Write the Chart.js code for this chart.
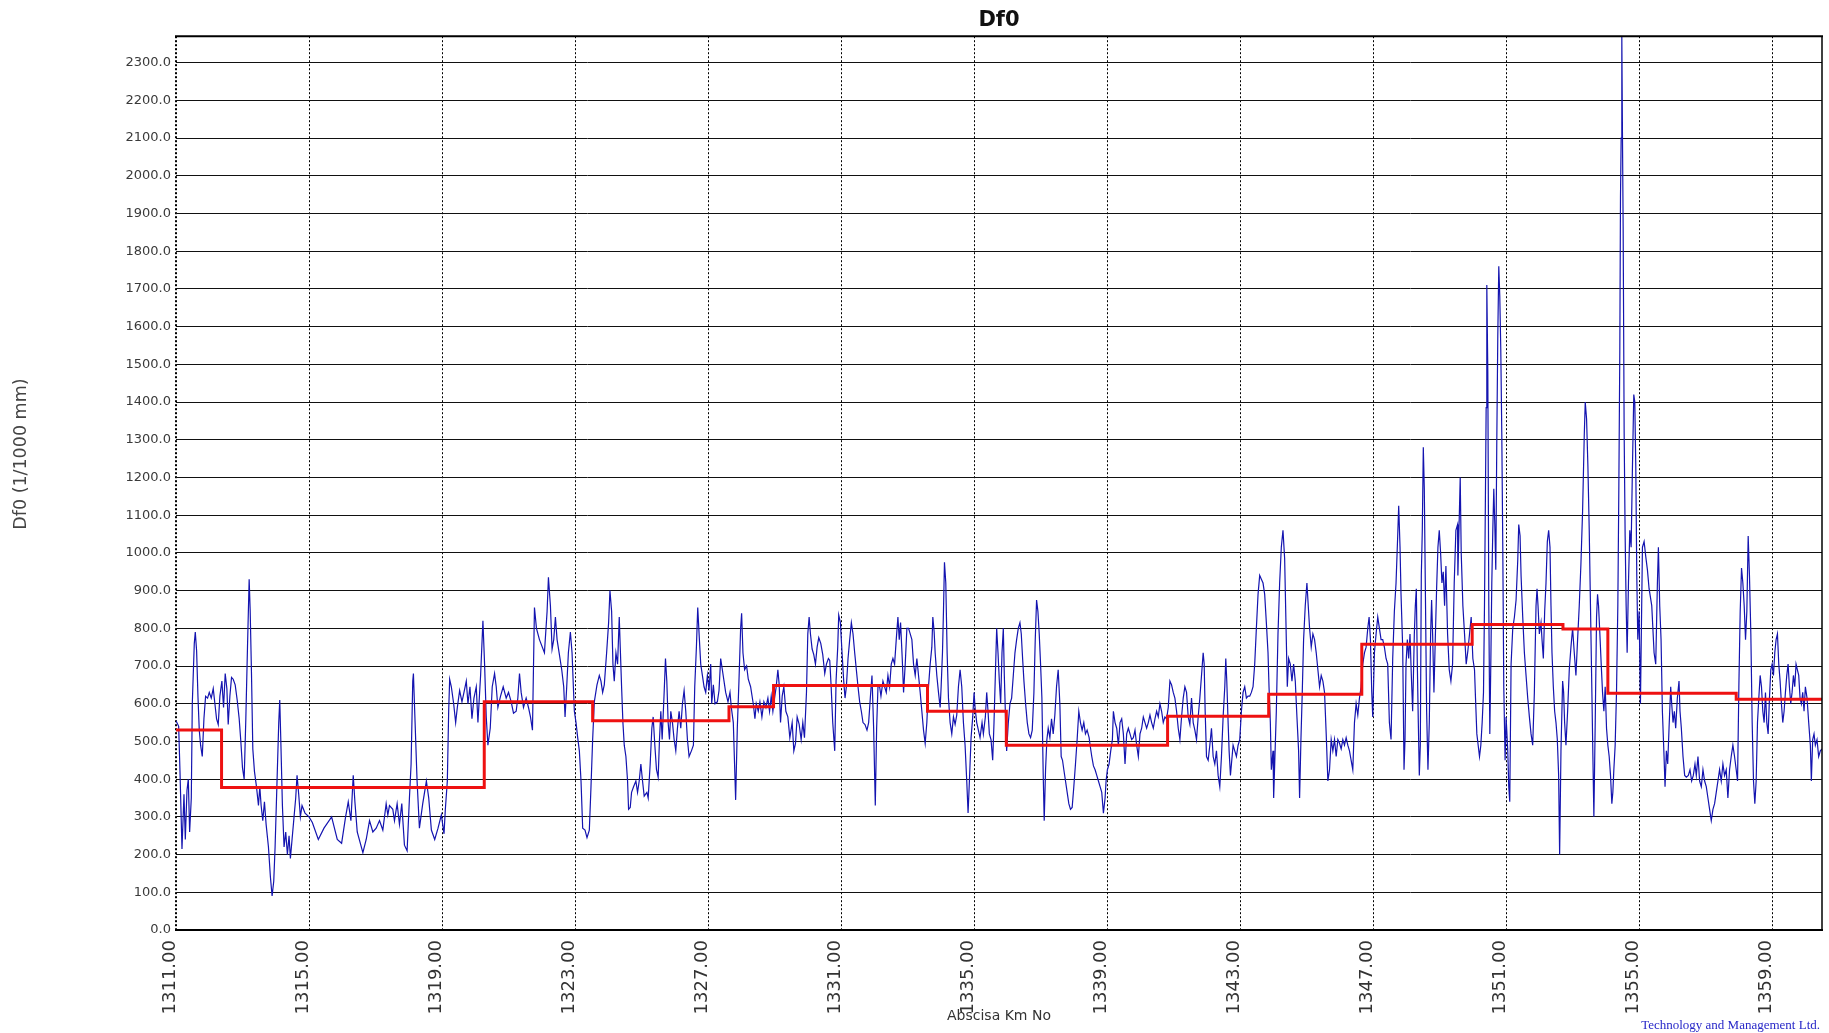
<!DOCTYPE html>
<html>
<head>
<meta charset="utf-8">
<title>Df0</title>
<script src="https://cdn.jsdelivr.net/npm/chart.js"></script>
<style>
  html, body { margin: 0; padding: 0; background: #ffffff; }
  #wrap { width: 1829px; height: 1033px; position: relative; }
</style>
</head>
<body>
<div id="wrap"><canvas id="chart" width="1829" height="1033"></canvas></div>
<script>
// ---------------- DATA ----------------
const chartTitle = 'Df0';
const yAxisTitle = 'Df0 (1/1000 mm)';
const xAxisTitle = 'Abscisa Km No';
const footerText = 'Technology and Management Ltd.';

const xTickValues = [1311, 1315, 1319, 1323, 1327, 1331, 1335, 1339, 1343, 1347, 1351, 1355, 1359];
const yTickValues = [0, 100, 200, 300, 400, 500, 600, 700, 800, 900, 1000, 1100, 1200, 1300, 1400, 1500, 1600, 1700, 1800, 1900, 2000, 2100, 2200, 2300];

// Df0 measured (blue), km positions and values per stretch
const kmA = [1311.00,1311.08,1311.12,1311.18,1311.24,1311.28,1311.33,1311.37,1311.41,1311.46,
  1311.49,1311.55,1311.58,1311.62,1311.66,1311.70,1311.74,1311.79,1311.84,1311.89,
  1311.95,1312.00,1312.06,1312.12,1312.17,1312.22,1312.27,1312.32,1312.38,1312.43,
  1312.48,1312.53,1312.57,1312.62,1312.67,1312.72,1312.78,1312.84,1312.90,1312.95,
  1313.00,1313.05,1313.10,1313.15,1313.20,1313.23,1313.27,1313.31,1313.36,1313.42,
  1313.48,1313.52,1313.56,1313.61,1313.66,1313.71,1313.78,1313.84,1313.89,1313.94,
  1313.98,1314.04,1314.09,1314.12,1314.15,1314.20,1314.25,1314.30,1314.35,1314.40,
  1314.44,1314.49,1314.55,1314.60,1314.64,1314.69,1314.74,1314.79,1314.88,1315.00,
  1315.10,1315.28,1315.45,1315.68,1315.85,1315.98,1316.10,1316.18,1316.26,1316.33,
  1316.38,1316.45];
const df0A = [555,540,420,215,360,240,370,400,260,350,
  600,760,790,740,620,530,490,460,560,620,
  615,630,615,640,600,560,545,620,660,590,
  680,640,545,620,670,665,650,610,560,500,
  430,400,560,750,930,850,680,480,420,380,
  330,380,330,290,340,280,220,140,90,130,
  220,400,550,610,510,330,220,260,200,250,
  190,240,300,350,410,360,300,330,310,300,
  285,240,270,300,240,230,300,340,290,410,
  340,260];

const kmB = [1316.62,1316.72,1316.82,1316.92,1317.02,1317.12,1317.22,1317.32,1317.37,1317.42,
  1317.52,1317.57,1317.65,1317.72,1317.79,1317.87,1317.95,1318.02,1318.07,1318.12,
  1318.14,1318.19,1318.25,1318.32,1318.42,1318.53,1318.60,1318.68,1318.78,1318.88,
  1318.98,1319.06,1319.10,1319.16,1319.20,1319.23,1319.28,1319.35,1319.41,1319.46,
  1319.53,1319.60,1319.66,1319.73,1319.78,1319.84,1319.90,1319.96,1320.03,1320.08,
  1320.16,1320.23,1320.28,1320.33,1320.38,1320.45,1320.51,1320.58,1320.63,1320.68,
  1320.76,1320.84,1320.93,1321.00,1321.08,1321.15,1321.23,1321.28,1321.33,1321.38,
  1321.45,1321.53,1321.60,1321.66,1321.72,1321.78,1321.84,1321.93];
const df0B = [205,240,290,260,270,290,265,335,305,330,
  320,290,335,280,335,225,210,350,440,660,
  680,550,395,270,335,395,350,265,240,270,
  305,255,320,395,580,665,645,600,550,590,
  635,605,630,660,600,645,560,615,645,550,
  675,820,705,565,490,535,645,680,645,590,
  620,645,615,630,605,575,580,615,680,630,
  590,615,590,565,530,855,800,770];

const kmC = [1322.08,1322.16,1322.20,1322.26,1322.31,1322.36,1322.41,1322.46,1322.53,1322.60,
  1322.66,1322.70,1322.75,1322.80,1322.86,1322.91,1322.95,1322.98,1323.03,1323.08,
  1323.13,1323.18,1323.23,1323.30,1323.36,1323.43,1323.48,1323.53,1323.58,1323.66,
  1323.73,1323.78,1323.83,1323.88,1323.95,1324.01,1324.05,1324.10,1324.14,1324.18,
  1324.23,1324.28,1324.33,1324.36,1324.40,1324.44,1324.48,1324.53,1324.58,1324.61,
  1324.66,1324.70,1324.76,1324.83,1324.88,1324.93,1324.98,1325.03,1325.08,1325.16,
  1325.20,1325.26,1325.31,1325.35,1325.40,1325.45,1325.50,1325.54,1325.58,1325.62,
  1325.68,1325.72,1325.76,1325.80,1325.84,1325.88,1325.93,1325.98,1326.03,1326.08,
  1326.13,1326.18,1326.23,1326.28,1326.33,1326.38,1326.43,1326.50,1326.56,1326.60,
  1326.65,1326.69,1326.74,1326.78,1326.83,1326.88,1326.93,1326.98,1327.03,1327.08,
  1327.11,1327.16,1327.21,1327.28,1327.33,1327.38,1327.43];
const df0C = [735,845,935,860,745,770,830,770,730,690,
  645,565,645,735,790,735,645,580,550,510,
  475,395,270,265,245,265,380,505,605,650,
  675,660,630,650,735,815,900,845,705,660,
  735,705,830,750,645,550,490,460,395,320,
  325,365,380,395,365,395,440,395,355,365,
  350,440,535,565,490,425,405,505,580,505,
  630,720,660,550,505,580,550,505,475,535,
  580,535,600,635,580,505,460,475,490,645,
  750,855,770,705,675,645,630,675,635,705,
  600,650,600,605,635,720,690];

const kmD = [1327.53,1327.60,1327.66,1327.70,1327.76,1327.83,1327.88,1327.93,1327.98,1328.01,
  1328.05,1328.10,1328.16,1328.21,1328.28,1328.36,1328.41,1328.45,1328.51,1328.56,
  1328.62,1328.68,1328.74,1328.80,1328.85,1328.90,1328.95,1329.00,1329.05,1329.10,
  1329.14,1329.18,1329.23,1329.28,1329.34,1329.40,1329.46,1329.53,1329.58,1329.63,
  1329.68,1329.74,1329.80,1329.85,1329.90,1329.96,1330.00,1330.04,1330.08,1330.13,
  1330.18,1330.23,1330.28,1330.33,1330.39,1330.45,1330.51,1330.56,1330.62,1330.66,
  1330.70,1330.75,1330.81,1330.85,1330.90,1330.93,1330.98,1331.03,1331.08,1331.12,
  1331.16,1331.21,1331.26,1331.31,1331.36,1331.41,1331.46,1331.51,1331.56,1331.61,
  1331.66,1331.72,1331.78,1331.83,1331.88,1331.93,1331.98,1332.03,1332.07,1332.11,
  1332.16,1332.20,1332.26,1332.31,1332.36,1332.41,1332.46,1332.51,1332.56,1332.61,
  1332.66,1332.71,1332.75,1332.79,1332.84,1332.88,1332.93,1332.98];
const df0D = [630,605,630,590,550,345,535,660,800,840,
  735,690,700,665,645,600,560,600,580,605,
  565,605,590,615,580,620,580,615,645,690,
  650,550,620,645,580,565,510,550,475,495,
  565,545,505,550,510,630,785,830,785,745,
  730,705,750,775,760,730,680,705,720,715,
  650,550,475,660,750,835,815,735,660,615,
  645,720,770,815,785,735,690,645,605,580,
  550,545,530,550,615,675,535,330,535,645,
  645,620,660,645,630,675,645,705,720,705,
  770,830,770,815,720,630,705,800];

const kmE = [1333.03,1333.08,1333.13,1333.18,1333.23,1333.28,1333.33,1333.38,1333.43,1333.48,
  1333.53,1333.58,1333.63,1333.68,1333.73,1333.76,1333.80,1333.83,1333.88,1333.93,
  1333.98,1334.01,1334.05,1334.08,1334.11,1334.15,1334.19,1334.23,1334.28,1334.33,
  1334.38,1334.43,1334.48,1334.53,1334.58,1334.63,1334.68,1334.73,1334.78,1334.82,
  1334.86,1334.91,1334.96,1335.00,1335.03,1335.08,1335.13,1335.18,1335.24,1335.28,
  1335.34,1335.38,1335.42,1335.46,1335.51,1335.56,1335.60,1335.64,1335.68,1335.72,
  1335.76,1335.80,1335.84,1335.88,1335.91,1335.95,1335.98,1336.03,1336.08,1336.13,
  1336.18,1336.23,1336.28,1336.33,1336.38,1336.42,1336.46,1336.50,1336.55,1336.60,
  1336.65,1336.70,1336.75,1336.80,1336.84,1336.88,1336.92,1336.96,1337.00,1337.04,
  1337.08,1337.11,1337.15,1337.19,1337.23,1337.28,1337.33,1337.38,1337.43,1337.48,
  1337.53,1337.58,1337.62,1337.66,1337.70,1337.75,1337.80,1337.85,1337.90,1337.95,
  1338.00,1338.05,1338.10,1338.15,1338.20,1338.25,1338.30,1338.35,1338.40,1338.46];
const df0E = [800,785,770,705,675,720,675,630,580,530,
  495,550,645,705,750,830,790,735,675,630,
  590,645,735,845,975,920,735,615,550,520,
  565,545,570,645,690,645,550,490,395,310,
  395,510,565,630,590,550,530,510,550,520,
  565,630,580,520,505,450,550,675,800,735,
  660,600,735,800,675,550,475,550,600,615,
  675,735,770,800,815,785,720,660,600,550,
  520,510,530,630,770,875,845,785,705,615,
  410,290,425,505,535,510,560,520,570,645,
  690,600,460,450,425,395,365,335,320,325,
  380,440,505,580,550,530,550,520,530,510];

const kmF = [1338.49,1338.54,1338.59,1338.64,1338.69,1338.74,1338.79,1338.84,1338.89,1338.94,
  1338.97,1339.01,1339.06,1339.11,1339.16,1339.19,1339.24,1339.29,1339.34,1339.39,
  1339.44,1339.49,1339.54,1339.59,1339.64,1339.69,1339.74,1339.79,1339.84,1339.89,
  1339.94,1339.99,1340.04,1340.09,1340.14,1340.19,1340.24,1340.29,1340.34,1340.39,
  1340.44,1340.49,1340.54,1340.59,1340.64,1340.69,1340.74,1340.79,1340.84,1340.89,
  1340.94,1340.99,1341.04,1341.09,1341.14,1341.19,1341.24,1341.29,1341.34,1341.39,
  1341.44,1341.49,1341.54,1341.59,1341.64,1341.69,1341.74,1341.79,1341.84,1341.89,
  1341.92,1341.95,1341.99,1342.04,1342.09,1342.14,1342.19,1342.24,1342.29,1342.34,
  1342.39,1342.44,1342.49,1342.54,1342.57,1342.60,1342.64,1342.67,1342.71,1342.74,
  1342.79,1342.84,1342.89,1342.94,1342.99,1343.04,1343.09,1343.14,1343.19,1343.24,
  1343.29,1343.34,1343.39,1343.44,1343.49,1343.54,1343.59,1343.64,1343.69,1343.74,
  1343.79,1343.84,1343.87,1343.91,1343.94,1343.99];
const df0F = [490,460,435,425,410,395,380,365,310,350,
  395,425,440,475,505,580,550,535,490,550,
  560,520,440,520,535,520,505,510,530,490,
  460,520,535,565,550,535,550,570,550,535,
  560,580,565,600,580,550,565,560,590,660,
  650,630,615,580,535,505,565,615,645,630,
  565,545,615,550,530,505,565,615,675,735,
  705,580,460,450,490,535,460,440,475,410,
  380,460,565,645,720,660,550,475,410,440,
  490,475,460,490,505,580,630,645,615,620,
  620,630,645,705,800,890,940,930,920,890,
  815,735,645,550,425,475];

const kmG = [1344.01,1344.09,1344.14,1344.19,1344.24,1344.29,1344.34,1344.39,1344.42,1344.46,
  1344.51,1344.56,1344.61,1344.66,1344.71,1344.76,1344.79,1344.83,1344.87,1344.91,
  1344.96,1345.01,1345.05,1345.09,1345.14,1345.19,1345.24,1345.29,1345.34,1345.39,
  1345.44,1345.49,1345.54,1345.59,1345.64,1345.69,1345.74,1345.79,1345.84,1345.89,
  1345.94,1345.99,1346.04,1346.09,1346.14,1346.19,1346.24,1346.29,1346.34,1346.39,
  1346.44,1346.49,1346.54,1346.59,1346.64,1346.69,1346.74,1346.79,1346.84,1346.88,
  1346.92,1346.96,1346.99,1347.04,1347.09,1347.14,1347.19,1347.24,1347.29,1347.34,
  1347.39,1347.44,1347.49,1347.54,1347.59,1347.64,1347.69,1347.74,1347.77,1347.81,
  1347.84,1347.89,1347.93,1347.96,1347.99,1348.03,1348.07,1348.11,1348.15,1348.19,
  1348.24,1348.27,1348.30,1348.33,1348.36,1348.39,1348.42,1348.45,1348.48,1348.51,
  1348.54,1348.57,1348.61,1348.65,1348.69,1348.73,1348.76,1348.79,1348.83,1348.87,
  1348.91,1348.95,1348.99,1349.03,1349.07,1349.11,1349.15,1349.19,1349.24,1349.29,
  1349.34,1349.39,1349.44,1349.49,1349.54];
const df0G = [350,580,785,920,1015,1060,985,770,645,720,
  705,660,705,660,565,475,350,505,630,770,
  860,920,860,800,750,785,770,735,690,645,
  675,660,630,520,395,425,505,475,505,460,
  505,495,480,505,490,510,490,475,450,425,
  550,600,570,615,645,705,735,750,800,830,
  770,630,565,735,785,830,800,770,770,750,
  720,705,550,505,720,845,920,1045,1125,1015,
  890,750,425,505,705,770,720,785,675,580,
  785,860,905,705,550,410,490,940,1060,1280,
  1170,920,580,425,550,785,875,785,630,770,
  905,1015,1060,1000,920,950,860,965,785,690,
  660,705,920,1060,1075];

const kmH = [1349.55,1349.62,1349.65,1349.70,1349.75,1349.80,1349.85,1349.90,1349.95,1350.00,
  1350.05,1350.08,1350.12,1350.16,1350.20,1350.24,1350.28,1350.32,1350.35,1350.38,
  1350.40,1350.42,1350.45,1350.48,1350.51,1350.54,1350.57,1350.60,1350.63,1350.66,
  1350.69,1350.72,1350.75,1350.78,1350.81,1350.84,1350.87,1350.90,1350.93,1350.97,
  1351.00,1351.05,1351.08,1351.11,1351.15,1351.20,1351.25,1351.30,1351.35,1351.38,
  1351.42,1351.45,1351.50,1351.55,1351.60,1351.65,1351.70,1351.75,1351.80,1351.85,
  1351.90,1351.93,1351.96,1352.00,1352.05,1352.08,1352.12,1352.16,1352.20,1352.24,
  1352.28,1352.32,1352.35,1352.38,1352.42,1352.46,1352.50,1352.54,1352.58,1352.61,
  1352.65,1352.70,1352.73,1352.76,1352.80,1352.85,1352.90,1352.95,1353.00,1353.05,
  1353.10,1353.15,1353.20,1353.25,1353.30,1353.35,1353.38,1353.42,1353.46,1353.50,
  1353.54,1353.58,1353.61,1353.64,1353.68,1353.72,1353.75,1353.78,1353.82,1353.86,
  1353.90,1353.94,1353.98,1354.02,1354.06,1354.10,1354.14,1354.18,1354.21,1354.24,
  1354.28,1354.32,1354.36,1354.39,1354.42,1354.44,1354.46,1354.48,1354.50,1354.52,
  1354.55,1354.58,1354.61,1354.64,1354.68,1354.72,1354.76,1354.80,1354.84,1354.87,
  1354.90,1354.93,1354.96,1355.00];
const df0H = [940,1200,1000,860,785,705,740,785,830,720,
  690,615,520,490,460,490,550,630,860,1170,
  1385,1710,1480,860,520,705,920,1060,1170,1075,
  955,1295,1575,1760,1680,1540,1320,1015,645,450,
  565,475,380,340,705,800,830,875,980,1075,
  1045,940,830,735,675,615,565,520,490,630,
  860,905,860,785,815,770,720,845,920,1030,
  1060,1015,860,735,645,580,550,505,410,200,
  475,660,630,550,490,580,690,750,800,735,
  675,770,860,970,1110,1310,1400,1355,1230,1060,
  845,630,460,300,550,830,890,860,785,705,
  630,580,645,535,490,460,410,335,365,425,
  490,630,860,1170,1540,1945,2100,2370,2100,1865,
  1320,1045,860,735,920,1060,1015,1230,1420,1400,
  1230,940,770,845];

const kmI = [1355.04,1355.10,1355.15,1355.20,1355.25,1355.30,1355.38,1355.45,1355.50,1355.55,
  1355.58,1355.62,1355.66,1355.70,1355.75,1355.78,1355.82,1355.86,1355.90,1355.95,
  1355.98,1356.02,1356.06,1356.10,1356.15,1356.20,1356.23,1356.27,1356.32,1356.37,
  1356.42,1356.48,1356.53,1356.58,1356.63,1356.68,1356.72,1356.77,1356.82,1356.87,
  1356.92,1356.97,1357.02,1357.07,1357.12,1357.17,1357.22,1357.27,1357.32,1357.37,
  1357.42,1357.47,1357.52,1357.57,1357.62,1357.67,1357.72,1357.77,1357.82,1357.87,
  1357.92,1357.96,1358.00,1358.04,1358.08,1358.12,1358.16,1358.20,1358.24,1358.28,
  1358.32,1358.36,1358.40,1358.44,1358.48,1358.52,1358.56,1358.60,1358.64,1358.68,
  1358.72,1358.76,1358.80,1358.84,1358.88,1358.92,1358.96,1359.00,1359.04,1359.08,
  1359.12,1359.16,1359.20,1359.24,1359.28,1359.32,1359.36,1359.40,1359.44,1359.48,
  1359.52,1359.56,1359.60,1359.64,1359.68,1359.72,1359.76,1359.80,1359.84,1359.88,
  1359.92,1359.96,1360.00,1360.05,1360.10,1360.15,1360.18,1360.22,1360.26,1360.30,
  1360.35,1360.40,1360.45,1360.50];
const df0I = [600,1015,1030,990,955,905,860,735,705,920,
  1015,860,770,580,460,380,475,440,535,645,
  600,550,580,535,615,660,580,535,460,410,
  405,410,425,395,410,440,410,460,395,380,
  425,395,380,350,320,290,320,335,365,395,
  425,395,440,410,425,350,425,460,490,460,
  425,395,645,845,960,920,860,770,845,1045,
  935,785,550,395,335,395,550,615,675,645,
  580,550,630,550,520,615,690,705,675,735,
  770,785,705,660,600,550,580,630,675,705,
  645,600,630,675,645,705,690,675,615,600,
  630,580,645,615,550,490,395,505,520,490,
  505,460,475,480];

// Df0 section averages (red step line): start km of each section and its level
const stepStartKm = [1311.00, 1312.37, 1320.27, 1323.53, 1327.63, 1328.97, 1333.60, 1335.97, 1340.82, 1343.86, 1346.66, 1349.98, 1352.71, 1354.06, 1357.92, 1360.50];
const stepLevel   = [530,     378,     605,     555,     592,     648,     580,     490,     567,     625,     758,     810,     798,     628,     612,     612];

// ---------------- BUILD ----------------
const kmAll = [].concat(kmA, kmB, kmC, kmD, kmE, kmF, kmG, kmH, kmI);
const df0All = [].concat(df0A, df0B, df0C, df0D, df0E, df0F, df0G, df0H, df0I);
const bluePoints = kmAll.map((k, i) => ({ x: k, y: df0All[i] }));
const redPoints = stepStartKm.map((k, i) => ({ x: k, y: stepLevel[i] }));

const FONT = 'DejaVu Sans';

// draws the frame (top / right edges) over the plot and the footer credit
const framePlugin = {
  id: 'frame',
  afterDraw(chart) {
    const { ctx, chartArea: a } = chart;
    ctx.save();
    ctx.strokeStyle = '#000';
    ctx.lineWidth = 2;
    ctx.beginPath();
    ctx.moveTo(a.left - 1, a.top);
    ctx.lineTo(a.right + 1, a.top);
    ctx.stroke();
    ctx.lineWidth = 1.5;
    ctx.beginPath();
    ctx.moveTo(a.right, a.top);
    ctx.lineTo(a.right, a.bottom);
    ctx.stroke();
    ctx.font = '13px "Liberation Serif"';
    ctx.fillStyle = '#2727c8';
    ctx.textAlign = 'right';
    ctx.textBaseline = 'middle';
    ctx.fillText(footerText, chart.width - 9, chart.height - 7);
    ctx.restore();
  }
};

// y-axis title placed slightly above the plot centre as in the reference
const yTitlePlugin = {
  id: 'yTitlePos',
  beforeDraw(chart) {
    const ys = chart.scales.y;
    ys.drawTitle = function () {
      const t = this.options.title;
      const a = this.chart.chartArea;
      const c = this.ctx;
      c.save();
      c.font = t.font.size + 'px "' + FONT + '"';
      c.fillStyle = t.color;
      c.textAlign = 'center';
      c.textBaseline = 'middle';
      c.translate(this.left + 21, (a.top + a.bottom) / 2 - 29);
      c.rotate(-Math.PI / 2);
      c.fillText(t.text, 0, 0);
      c.restore();
    };
  }
};

new Chart(document.getElementById('chart'), {
  type: 'line',
  data: {
    datasets: [
      {
        label: 'Df0 average',
        data: redPoints,
        borderColor: '#ee1111',
        borderWidth: 3,
        stepped: 'before',
        pointRadius: 0,
        fill: false,
        order: 0
      },
      {
        label: 'Df0',
        data: bluePoints,
        borderColor: '#1414b0',
        borderWidth: 1.2,
        pointRadius: 0,
        tension: 0,
        fill: false,
        order: 1
      }
    ]
  },
  options: {
    responsive: false,
    animation: false,
    devicePixelRatio: 1,
    layout: { padding: { left: 0, right: 7, top: 0, bottom: 0 } },
    plugins: {
      legend: { display: false },
      tooltip: { enabled: false },
      title: {
        display: true,
        text: chartTitle,
        fullSize: false,
        color: '#111',
        font: { family: FONT, size: 21, weight: 'bold' },
        padding: { top: 8, bottom: 3 }
      }
    },
    scales: {
      x: {
        type: 'linear',
        min: 1311,
        max: 1360.5,
        afterBuildTicks: (s) => { s.ticks = xTickValues.map(v => ({ value: v })); },
        afterFit: (s) => { s.height = 103; },
        grid: {
          color: '#000',
          lineWidth: (c) => (c.index === 0 ? 2 : 1),
          drawTicks: false
        },
        border: { display: true, color: '#000', width: 2, dash: [2, 2] },
        ticks: {
          autoSkip: false,
          minRotation: 90,
          maxRotation: 90,
          padding: 10,
          labelOffset: -6,
          color: '#333',
          font: { family: FONT, size: 18 },
          callback: (v) => Number(v).toFixed(2)
        },
        title: {
          display: true,
          text: xAxisTitle,
          color: '#333',
          font: { family: FONT, size: 14 },
          padding: { top: 0, bottom: 8 }
        }
      },
      y: {
        type: 'linear',
        min: 0,
        max: 2370,
        afterBuildTicks: (s) => { s.ticks = yTickValues.map(v => ({ value: v })); },
        afterFit: (s) => { s.width = 176; },
        grid: { color: '#111', lineWidth: 1, drawTicks: false },
        border: { display: false },
        ticks: {
          padding: 5,
          color: '#3a3a3a',
          font: { family: FONT, size: 13 },
          callback: (v) => Number(v).toFixed(1)
        },
        title: {
          display: true,
          text: yAxisTitle,
          color: '#444',
          font: { family: FONT, size: 17.5 },
          padding: { top: 10, bottom: 0 }
        }
      }
    }
  },
  plugins: [framePlugin, yTitlePlugin]
});
</script>
</body>
</html>
